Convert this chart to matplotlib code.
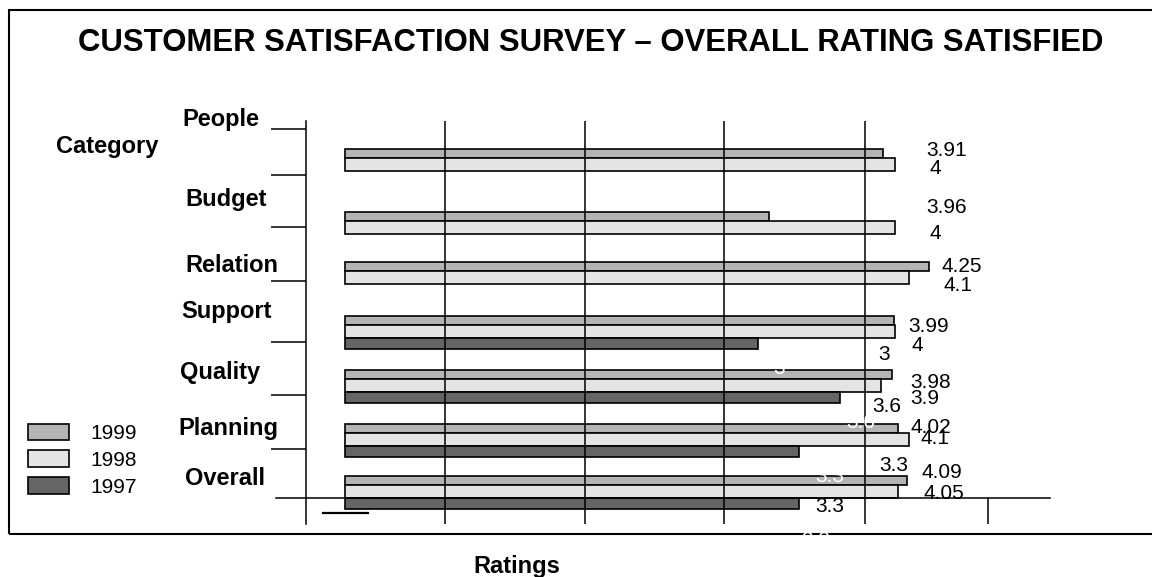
import matplotlib
matplotlib.use('Agg')
import matplotlib.pyplot as plt
from matplotlib.patches import Rectangle

plt.rcParams['font.family'] = ['Liberation Sans', 'DejaVu Sans']

# --- data ---
categories = ['People', 'Budget', 'Relation', 'Support', 'Quality', 'Planning', 'Overall']
years = ['1999', '1998', '1997']
# bar lengths as they are drawn in the original
r1999 = [3.91, 3.08, 4.25, 3.99, 3.98, 4.02, 4.09]
r1998 = [4.0, 4.0, 4.1, 4.0, 3.9, 4.1, 4.02]
cats_1997 = ['Support', 'Quality', 'Planning', 'Overall']
r1997 = [3.0, 3.6, 3.3, 3.3]
# value labels as printed
value_labels = ['3.91', '4', '3.96', '4', '4.25', '4.1', '3.99', '4', '3',
                '3.98', '3.9', '3.6', '4.02', '4.1', '3.3', '4.09', '4.05', '3.3']
ghost_labels = ['3', '3.6', '3.3', '3.3']

# --- layout (pixels of the 1152x577 picture) ---
W, H = 1152, 577
PX_PER_UNIT = 137.5
X0 = 345            # pixel where rating 0 sits
row_y = [157.7, 221, 271, 324.7, 379.3, 432.7, 484.7]   # 1999/1998 boundary per category
h99, h98, h97 = 9, 13, 11
tick_rows = [129.3, 174.7, 227.3, 281, 341.7, 395.3, 449.3]
grid_px = [445.3, 585, 724.3, 865]
value_pos = [(926.7, 150), (929.3, 169), (926.7, 207.5), (929.3, 233.3), (941, 267), (943.3, 285),
             (908.7, 326.7), (911.7, 345.8), (878.3, 354.5), (910, 382.5), (910, 398.3), (872.7, 407),
             (910.7, 427.3), (920.7, 438.3), (879, 465.5), (921.7, 472.2), (924, 493.7), (815, 507)]
ghost_pos = [(773, 369), (846.7, 423), (815, 476), (801, 540)]
cat_pos = [(182.7, 126), (185.7, 206), (185.7, 271.7), (181.7, 317.7), (180, 379.3), (178.3, 435), (185, 485)]

colors = {'1999': '#b4b4b4', '1998': '#e4e4e4', '1997': '#656565'}


def fx(x):
    return x / W


def fy(y):
    return 1 - y / H


def val(px):
    return (px - X0) / PX_PER_UNIT


fig = plt.figure(figsize=(W / 100, H / 100), dpi=100)
ax_left, ax_right, ax_top, ax_bot = 306, 1050, 121, 524
ax = fig.add_axes([fx(ax_left), fy(ax_bot), (ax_right - ax_left) / W, (ax_bot - ax_top) / H])
ax.set_xlim(val(ax_left), val(ax_right))
ax.set_ylim(ax_bot, ax_top)

# bars
y99 = [y - h99 / 2 for y in row_y]
y98 = [y + h98 / 2 for y in row_y]
y97 = [row_y[categories.index(c)] + h98 + h97 / 2 for c in cats_1997]
b99 = ax.barh(y99, r1999, height=h99, color=colors['1999'], edgecolor='black', linewidth=1.2, zorder=2)
b98 = ax.barh(y98, r1998, height=h98, color=colors['1998'], edgecolor='black', linewidth=1.2, zorder=2)
b97 = ax.barh(y97, r1997, height=h97, color=colors['1997'], edgecolor='black', linewidth=1.2, zorder=2)

# vertical grid lines over the bars
for gx in grid_px:
    ax.axvline(val(gx), color='black', linewidth=1.1, zorder=3)
ax.plot([val(988.3), val(988.3)], [498.3, ax_bot], color='black', linewidth=1.1, zorder=3)

# long horizontal line and the stray short one
ax.plot([val(276), val(ax_right)], [498.3, 498.3], color='black', linewidth=1.1, zorder=3, clip_on=False)
ax.plot([val(322.7), val(368.3)], [513.3, 513.3], color='black', linewidth=1.6, zorder=3)

# axis styling
for s in ['top', 'right', 'bottom']:
    ax.spines[s].set_visible(False)
ax.spines['left'].set_linewidth(1.1)
ax.set_yticks(tick_rows)
ax.set_yticklabels([])
ax.tick_params(axis='y', direction='out', length=25, width=1.1)
ax.set_xticks([])
ax.set_facecolor('none')

# value labels
for t, (x, y) in zip(value_labels, value_pos):
    fig.text(fx(x), fy(y), t, fontsize=15, ha='left', va='center', zorder=5)
for t, (x, y) in zip(ghost_labels, ghost_pos):
    fig.text(fx(x), fy(y), t, fontsize=15, ha='left', va='center', color='white', zorder=6)

# category labels
for c, (x, y) in zip(categories, cat_pos):
    fig.text(fx(x), fy(y), c, fontsize=17, fontweight='bold', ha='left', va='baseline')
fig.text(fx(56), fy(152.7), 'Category', fontsize=17, fontweight='bold', ha='left', va='baseline')

# title and x label
fig.text(fx(591), fy(43), 'CUSTOMER SATISFACTION SURVEY \u2013 OVERALL RATING SATISFIED',
         fontsize=22.4, fontweight='bold', ha='center', va='center')
fig.text(fx(517), fy(566), 'Ratings', fontsize=17, fontweight='bold', ha='center', va='center')

# legend
fig.legend([b99, b98, b97], years, loc='upper left', bbox_to_anchor=(fx(13), fy(409)),
           frameon=False, fontsize=15, handlelength=2.0, handleheight=0.85,
           handletextpad=1.0, labelspacing=0.35, borderpad=0.2)

# outer frame (its right side runs off the picture)
fig.add_artist(Rectangle((fx(9), fy(534)), 1.2, (534 - 10) / H, transform=fig.transFigure,
                         fill=False, edgecolor='black', linewidth=1.5))

fig.savefig('out.png', dpi=100)
